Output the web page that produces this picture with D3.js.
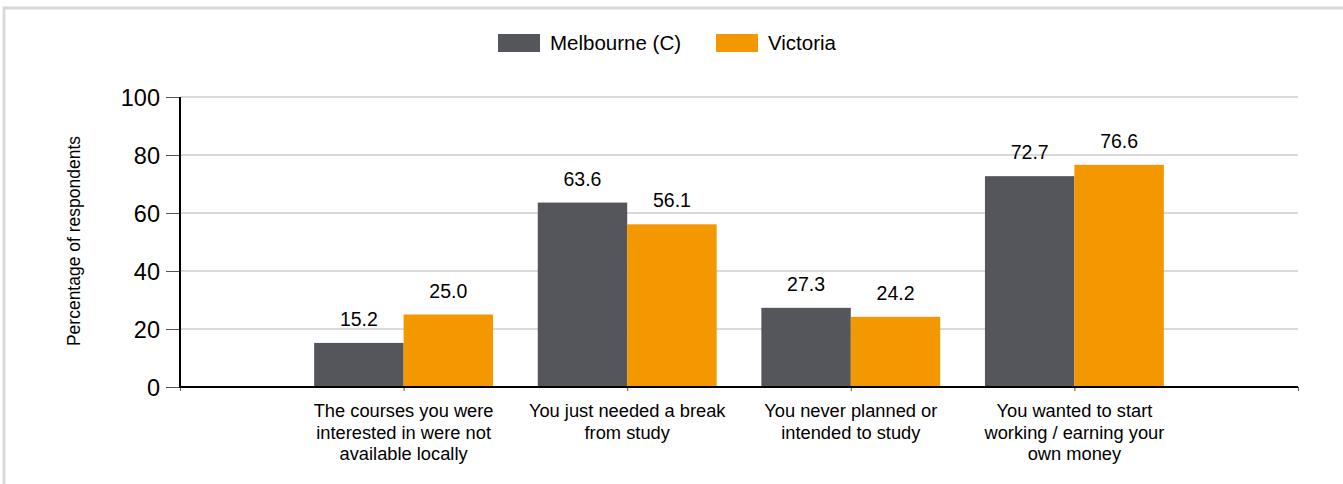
<!DOCTYPE html>
<html><head><meta charset="utf-8">
<script src="https://cdn.jsdelivr.net/npm/d3@7/dist/d3.min.js"></script>
<style>
html,body{margin:0;padding:0;background:#fff;}
svg{display:block;font-family:"Liberation Sans",Arial,sans-serif;}
</style></head>
<body><svg id="c" width="1343" height="484"></svg>
<script>
const categories = [
  ["The courses you were","interested in were not","available locally"],
  ["You just needed a break","from study"],
  ["You never planned or","intended to study"],
  ["You wanted to start","working / earning your","own money"]
];
const seriesNames = ["Melbourne (C)", "Victoria"];
const melbourne = [15.2, 63.6, 27.3, 72.7];
const victoria = [25.0, 56.1, 24.2, 76.6];
const yTicks = [0, 20, 40, 60, 80, 100];
const colors = ["#54565b", "#f39800"];

(function () {
const svg = d3.select("#c");
// outer border
svg.append("rect").attr("x", 4).attr("y", 8).attr("width", 1360).attr("height", 500)
  .attr("fill", "none").attr("stroke", "#d9d9d9").attr("stroke-width", 3);

const pL = 180, pR = 1298, pT = 97, pB = 387;
const keys = ["", "c0", "c1", "c2", "c3", " "];
const xp = d3.scalePoint().domain(keys).range([pL, pR]);
const step = xp.step();
const xs = d3.scaleBand().domain([0, 1]).range([-step * 0.4, step * 0.4]).padding(0);
const y = d3.scaleLinear().domain([0, 100]).range([pB, pT]);

// gridlines
svg.append("g").selectAll("line").data(yTicks.filter(d => d > 0)).join("line")
  .attr("x1", pL).attr("x2", pR).attr("y1", d => y(d)).attr("y2", d => y(d))
  .attr("stroke", "#d9d9d9").attr("stroke-width", 2);

// y axis
const ya = svg.append("g").attr("transform", `translate(${pL},0)`)
  .call(d3.axisLeft(y).tickValues(yTicks).tickSize(14).tickPadding(6).tickFormat(d3.format("d")));
ya.select(".domain").remove();
ya.selectAll(".tick line").attr("stroke", "#555").attr("stroke-width", 1);
ya.selectAll("text").attr("font-size", 23.5).attr("fill", "#000").attr("dy", "0.36em");

// bars
const data = categories.map((c, i) => ({ key: "c" + i, vals: [melbourne[i], victoria[i]] }));
const g = svg.append("g");
data.forEach(d => {
  d.vals.forEach((v, j) => {
    const x0 = xp(d.key) + xs(j);
    g.append("rect").attr("x", x0).attr("width", xs.bandwidth())
      .attr("y", y(v)).attr("height", y(0) - y(v)).attr("fill", colors[j]);
    g.append("text").attr("x", x0 + xs.bandwidth() / 2).attr("y", y(v) - 17)
      .attr("text-anchor", "middle").attr("font-size", 19.5).attr("fill", "#000")
      .text(v.toFixed(1));
  });
});

// x axis
const xa = svg.append("g").attr("transform", `translate(0,${pB})`)
  .call(d3.axisBottom(xp).tickSize(4).tickFormat(""));
xa.select(".domain").remove();
xa.selectAll(".tick line").attr("stroke", "#555").attr("stroke-width", 1);
svg.append("line").attr("x1", pL - 1).attr("x2", pR).attr("y1", pB).attr("y2", pB)
  .attr("stroke", "#000").attr("stroke-width", 2);
svg.append("line").attr("x1", pL).attr("x2", pL).attr("y1", pT).attr("y2", pB + 1)
  .attr("stroke", "#000").attr("stroke-width", 2);

// category labels
data.forEach((d, i) => {
  const t = svg.append("text").attr("text-anchor", "middle").attr("font-size", 18.3).attr("fill", "#000");
  categories[i].forEach((line, k) => {
    t.append("tspan").attr("x", xp(d.key)).attr("y", 417 + k * 21.7).text(line);
  });
});

// y title
svg.append("text").attr("transform", "translate(80,241) rotate(-90)")
  .attr("text-anchor", "middle").attr("font-size", 17.5).attr("fill", "#000")
  .text("Percentage of respondents");

// legend
const legendX = [498, 716];
seriesNames.forEach((n, j) => {
  svg.append("rect").attr("x", legendX[j]).attr("y", 34).attr("width", 42).attr("height", 18).attr("fill", colors[j]);
  svg.append("text").attr("x", legendX[j] + 52).attr("y", 50).attr("font-size", 20.5).attr("fill", "#000").text(n);
});
})();
</script></body></html>
